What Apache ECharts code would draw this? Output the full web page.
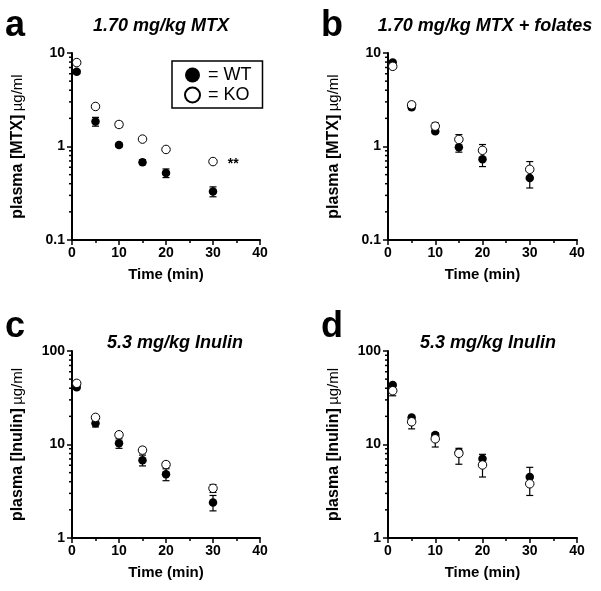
<!DOCTYPE html>
<html>
<head>
<meta charset="utf-8">
<script src="https://cdn.jsdelivr.net/npm/echarts@6/dist/echarts.min.js"></script>
<style>
  html, body { margin: 0; padding: 0; background: #fff; }
  #chart { width: 601px; height: 591px; }
</style>
</head>
<body>
<div id="chart"></div>
<script>
// sampling times (min)
var times = [1, 5, 10, 15, 20, 30]

// a: 1.70 mg/kg MTX
var mtxWT = [6.3, 1.85, 1.04, 0.68, 0.52, 0.33]
var mtxWTsem = [0.3, 0.2, 0.05, 0.04, 0.055, 0.04]
var mtxKO = [7.9, 2.68, 1.72, 1.2, 0.93, 0.69]
var mtxKOsem = [0.3, 0.1, 0.12, 0.05, 0.04, 0.03]

// b: 1.70 mg/kg MTX + folates
var folWT = [7.9, 2.63, 1.46, 0.98, 0.73, 0.46]
var folWTsem = [0.4, 0.15, 0.08, 0.11, 0.12, 0.1]
var folKO = [7.2, 2.79, 1.65, 1.19, 0.91, 0.57]
var folKOsem = [0.8, 0.2, 0.14, 0.15, 0.14, 0.12]

// c: 5.3 mg/kg inulin
var inuCWT = [40.9, 16.9, 10.3, 6.8, 4.8, 2.4]
var inuCWTsem = [2, 1.5, 1.2, 0.9, 0.7, 0.45]
var inuCKO = [45.1, 19.5, 12.7, 8.7, 6.1, 3.4]
var inuCKOsem = [2, 1, 0.6, 0.6, 0.4, 0.33]

// d: 5.3 mg/kg inulin
var inuDWT = [43.3, 19.4, 12.6, 8.3, 7.05, 4.5]
var inuDWTsem = [2, 1, 0.8, 0.8, 0.8, 1.2]
var inuDKO = [37.6, 17.5, 11.5, 8.05, 6.04, 3.8]
var inuDKOsem = [4.4, 2.8, 2.1, 1.9, 1.55, 0.95]

var xTicks = [0, 10, 20, 30, 40]
var FONT = '"Liberation Sans", Arial, sans-serif'

var panels = [
  { letter: 'a', title: '1.70 mg/kg MTX', yName: 'MTX', yMin: 0.1, yMax: 10,
    left: 72, top: 53, width: 188, titleX: 161, titleY: 17, letterX: 5, letterY: 8,
    wt: mtxWT, wtSem: mtxWTsem, ko: mtxKO, koSem: mtxKOsem, wtBars: 'both', koBars: 'both', star: 5 },
  { letter: 'b', title: '1.70 mg/kg MTX + folates', yName: 'MTX', yMin: 0.1, yMax: 10,
    left: 388, top: 53, width: 189, titleX: 485, titleY: 17, letterX: 321, letterY: 8,
    wt: folWT, wtSem: folWTsem, ko: folKO, koSem: folKOsem, wtBars: 'down', koBars: 'up' },
  { letter: 'c', title: '5.3 mg/kg Inulin', yName: 'Inulin', yMin: 1, yMax: 100,
    left: 72, top: 351, width: 188, titleX: 175, titleY: 334, letterX: 5, letterY: 309,
    wt: inuCWT, wtSem: inuCWTsem, ko: inuCKO, koSem: inuCKOsem, wtBars: 'both', koBars: 'both' },
  { letter: 'd', title: '5.3 mg/kg Inulin', yName: 'Inulin', yMin: 1, yMax: 100,
    left: 388, top: 351, width: 189, titleX: 488, titleY: 334, letterX: 321, letterY: 309,
    wt: inuDWT, wtSem: inuDWTsem, ko: inuDKO, koSem: inuDKOsem, wtBars: 'up', koBars: 'down' }
]

function pairs (xs, ys) {
  return xs.map((x, i) => [x, ys[i]])
}

function errorBars (mode) {
  return function (params, api) {
    var x = api.value(0)
    var m = api.value(1)
    var s = api.value(2)
    var c = api.coord([x, m])
    var hi = api.coord([x, m + s])
    var lo = api.coord([x, Math.max(m - s, 1e-6)])
    var cap = 3.5
    var st = { stroke: '#000', lineWidth: 1.2 }
    var kids = []
    if (mode !== 'down') {
      kids.push({ type: 'line', shape: { x1: c[0], y1: c[1], x2: hi[0], y2: hi[1] }, style: st })
      kids.push({ type: 'line', shape: { x1: hi[0] - cap, y1: hi[1], x2: hi[0] + cap, y2: hi[1] }, style: st })
    }
    if (mode !== 'up') {
      kids.push({ type: 'line', shape: { x1: c[0], y1: c[1], x2: lo[0], y2: lo[1] }, style: st })
      kids.push({ type: 'line', shape: { x1: lo[0] - cap, y1: lo[1], x2: lo[0] + cap, y2: lo[1] }, style: st })
    }
    return { type: 'group', children: kids }
  }
}

// log minor ticks at 2..9 of each decade
function minorTicks (min, max) {
  var out = []
  for (var d = min; d < max; d *= 10) {
    for (var k = 2; k <= 9; k++) out.push([0, +(k * d).toPrecision(3)])
  }
  return out
}

function minorTickItem (params, api) {
  var p = api.coord([api.value(0), api.value(1)])
  return {
    type: 'line',
    shape: { x1: p[0] - 3, y1: p[1], x2: p[0], y2: p[1] },
    style: { stroke: '#000', lineWidth: 1.5 }
  }
}

var grid = []
var xAxis = []
var yAxis = []
var series = []
var title = []

panels.forEach((p, i) => {
  grid.push({ left: p.left, top: p.top, width: p.width, height: 187 })
  xAxis.push({
    gridIndex: i, type: 'value', min: 0, max: 40, interval: 10,
    name: 'Time (min)', nameLocation: 'middle', nameGap: 27,
    nameTextStyle: { fontFamily: FONT, fontWeight: 'bold', fontSize: 15, color: '#000' },
    axisLine: { lineStyle: { color: '#000', width: 2 } },
    axisTick: { length: 5, lineStyle: { color: '#000', width: 1.5 } },
    minorTick: { show: true, splitNumber: 2, length: 3, lineStyle: { color: '#000', width: 1.5 } },
    splitLine: { show: false },
    axisLabel: { fontFamily: FONT, fontWeight: 'bold', fontSize: 14, color: '#000', margin: 6,
      formatter: v => xTicks.indexOf(v) >= 0 ? String(v) : '' }
  })
  yAxis.push({
    gridIndex: i, type: 'log', logBase: 10, min: p.yMin, max: p.yMax,
    name: '{b|plasma [' + p.yName + ']} {r|µg/ml}', nameLocation: 'middle', nameGap: 46, nameRotate: 90,
    nameTextStyle: { rich: {
      b: { fontFamily: FONT, fontWeight: 'bold', fontSize: 16, color: '#000' },
      r: { fontFamily: FONT, fontSize: 15, color: '#000' }
    } },
    axisLine: { show: true, lineStyle: { color: '#000', width: 2 } },
    axisTick: { show: true, length: 5, lineStyle: { color: '#000', width: 1.5 } },
    splitLine: { show: false },
    axisLabel: { fontFamily: FONT, fontWeight: 'bold', fontSize: 14, color: '#000', margin: 7,
      formatter: v => String(+v.toPrecision(3)) }
  })
  title.push({
    text: p.title, left: p.titleX, top: p.titleY, textAlign: 'center', padding: 0,
    textStyle: { fontFamily: FONT, fontWeight: 'bold', fontStyle: 'italic', fontSize: 18, color: '#000' }
  })
  title.push({
    text: p.letter, left: p.letterX, top: p.letterY, padding: 0,
    textStyle: { fontFamily: FONT, fontWeight: 'bold', fontSize: 36, color: '#000' }
  })

  series.push({
    type: 'custom', xAxisIndex: i, yAxisIndex: i, silent: true, clip: false, z: 5,
    renderItem: minorTickItem, data: minorTicks(p.yMin, p.yMax)
  })
  series.push({
    name: 'WT err', type: 'custom', xAxisIndex: i, yAxisIndex: i, silent: true, z: 1,
    renderItem: errorBars(p.wtBars), data: times.map((t, k) => [t, p.wt[k], p.wtSem[k]])
  })
  series.push({
    name: 'KO err', type: 'custom', xAxisIndex: i, yAxisIndex: i, silent: true, z: 1,
    renderItem: errorBars(p.koBars), data: times.map((t, k) => [t, p.ko[k], p.koSem[k]])
  })
  series.push({
    name: 'WT', type: 'scatter', xAxisIndex: i, yAxisIndex: i, z: 3,
    symbol: 'circle', symbolSize: 8.5,
    itemStyle: { color: '#000', opacity: 1 },
    data: pairs(times, p.wt)
  })
  var koData = pairs(times, p.ko)
  if (p.star != null) {
    koData[p.star] = {
      value: koData[p.star],
      label: { show: true, formatter: '**', position: 'right', distance: 10, offset: [0, 3],
        fontFamily: FONT, fontWeight: 'bold', fontSize: 14, color: '#000' }
    }
  }
  series.push({
    name: 'KO', type: 'scatter', xAxisIndex: i, yAxisIndex: i, z: 4,
    symbol: 'circle', symbolSize: 8.5,
    itemStyle: { color: '#fff', borderColor: '#000', borderWidth: 1, opacity: 1 },
    data: koData
  })
})

var chart = echarts.init(document.getElementById('chart'), null, { renderer: 'canvas' })
chart.setOption({
  animation: false,
  backgroundColor: '#fff',
  title: title,
  legend: {
    data: [
      { name: 'WT', itemStyle: { color: '#000' } },
      { name: 'KO', itemStyle: { color: '#fff', borderColor: '#000', borderWidth: 2 } }
    ],
    orient: 'vertical', left: 172, top: 61,
    itemWidth: 15, itemHeight: 15, itemGap: 2,
    padding: [5, 11, 4, 12],
    borderColor: '#000', borderWidth: 1.5,
    selectedMode: false,
    formatter: '= {name}',
    textStyle: { fontFamily: FONT, fontSize: 18, color: '#000', padding: [0, 0, 0, 3] }
  },
  grid: grid,
  xAxis: xAxis,
  yAxis: yAxis,
  series: series
})
</script>
</body>
</html>
